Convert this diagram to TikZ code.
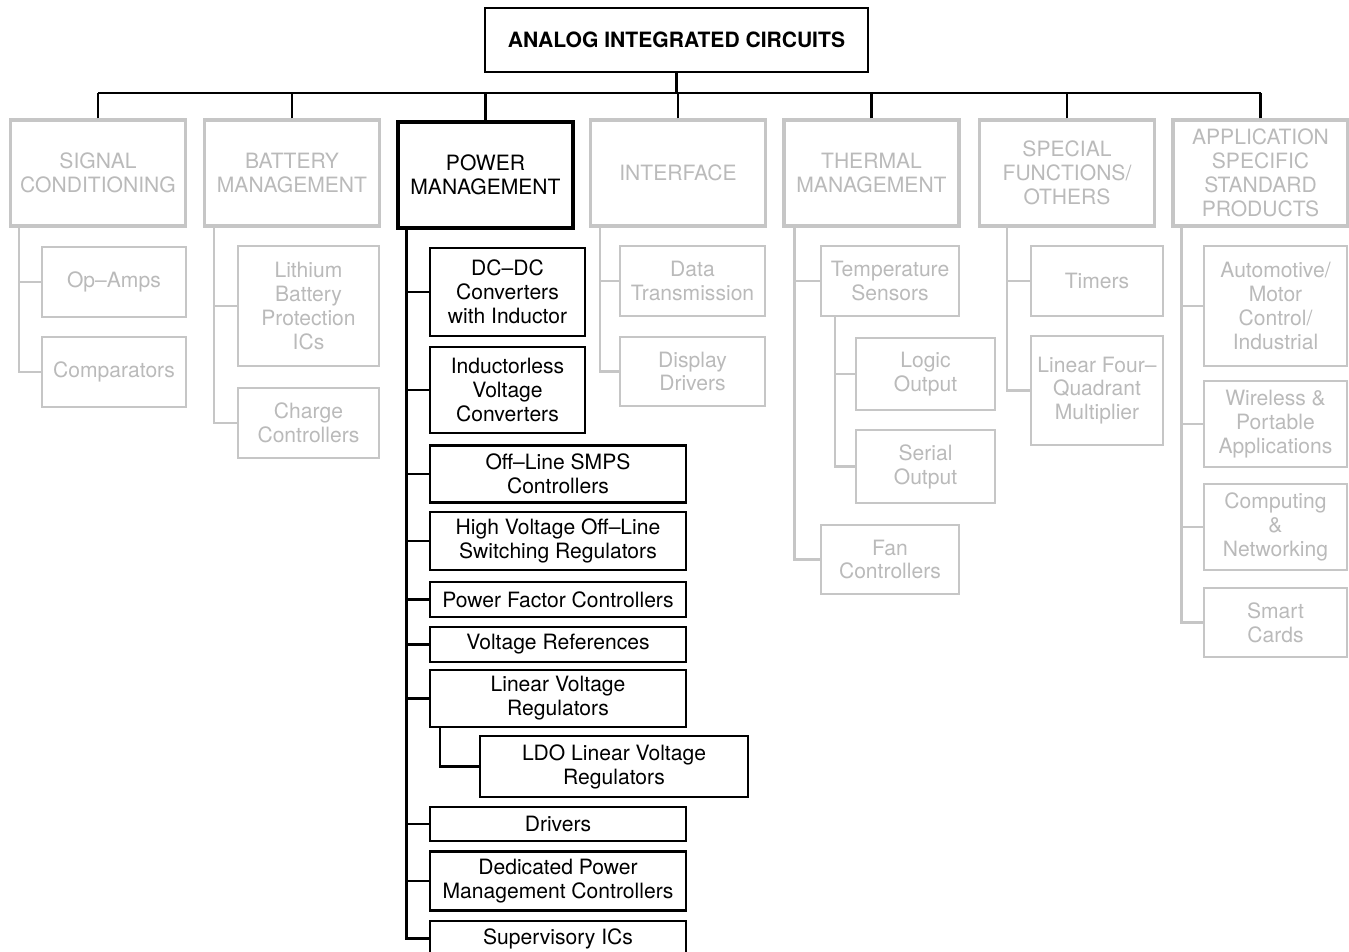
\documentclass[tikz,border=0pt]{standalone}
\usepackage{fontspec}
\setmainfont{TeX Gyre Heros}
\usepackage{xcolor}
\definecolor{boxgray}{HTML}{C6C6C6}
\definecolor{textgray}{HTML}{BABABA}
\usepackage{tikz}
\usetikzlibrary{positioning}

\begin{document}
\begin{tikzpicture}[x=0.02cm, y=-0.02cm,
    every node/.style={font=\fontsize{12}{13.6}\selectfont, align=center, inner sep=2pt},
    topbox/.style={draw, line width=1.6pt, minimum width=7.66cm, minimum height=1.28cm,
                   font=\fontsize{12}{13.6}\selectfont\bfseries},
    catbox/.style={draw, line width=1.75pt, minimum width=3.5cm, minimum height=2.12cm},
    subbox/.style={draw, line width=1.25pt},
    dimbox/.style={draw=boxgray, text=textgray},
    pmnarrow/.style={subbox, minimum width=3.1cm},
    pmwide/.style={subbox, minimum width=5.12cm},
    blackline/.style={line width=1.25pt},
    grayline/.style={line width=1.25pt, boxgray}
  ]
    \useasboundingbox (0,0) rectangle (1349,951);
    \clip (0,0) rectangle (1349,951);

    % Top
    \node[topbox] (aic) at (676.5,40) {ANALOG INTEGRATED CIRCUITS};

    % Categories
    \node[catbox, dimbox] (sig) at (98,173) {SIGNAL\\CONDITIONING};
    \node[catbox, dimbox] (bat) at (292,173) {BATTERY\\MANAGEMENT};
    \node[catbox] (pwr) at (485.5,175) {POWER\\MANAGEMENT};
    \node[catbox, dimbox] (itf) at (678,173) {INTERFACE};
    \node[catbox, dimbox] (thm) at (871.5,173) {THERMAL\\MANAGEMENT};
    \node[catbox, dimbox] (spf) at (1067,173) {SPECIAL\\FUNCTIONS/\\OTHERS};
    \node[catbox, dimbox] (asp) at (1260.5,173) {APPLICATION\\SPECIFIC\\STANDARD\\PRODUCTS};

    % Signal conditioning
    \node[subbox, dimbox, minimum width=2.88cm, minimum height=1.4cm] (opamp) at (114,282) {Op--Amps};
    \node[subbox, dimbox, minimum width=2.88cm, minimum height=1.4cm] (comp) at (114,372) {Comparators};

    % Battery management
    \node[subbox, dimbox, minimum width=2.82cm, minimum height=2.4cm] (lith) at (308.5,306)
      {Lithium\\Battery\\Protection\\ICs};
    \node[subbox, dimbox, minimum width=2.82cm, minimum height=1.4cm] (chg) at (308.5,423)
      {Charge\\Controllers};

    % Power management
    \node[pmnarrow, minimum height=1.76cm] (dcdc) at (507.5,292) {DC--DC\\Converters\\with Inductor};
    \node[pmnarrow, minimum height=1.72cm] (indl) at (507.5,390) {Inductorless\\Voltage\\Converters};
    \node[pmwide, minimum height=1.14cm] (smps) at (558,474) {Off--Line SMPS\\Controllers};
    \node[pmwide, minimum height=1.16cm] (hvsw) at (558,541) {High Voltage Off--Line\\Switching Regulators};
    \node[pmwide, minimum height=0.7cm] (pfc) at (558,599.5) {Power Factor Controllers};
    \node[pmwide, minimum height=0.7cm] (vref) at (558,644.5) {Voltage References};
    \node[pmwide, minimum height=1.14cm] (lvr) at (558,698.5) {Linear Voltage\\Regulators};
    \node[subbox, minimum width=5.36cm, minimum height=1.22cm] (ldo) at (614,766.5)
      {LDO Linear Voltage\\Regulators};
    \node[pmwide, minimum height=0.68cm] (drv) at (558,824) {Drivers};
    \node[pmwide, minimum height=1.18cm] (dpm) at (558,881) {Dedicated Power\\Management Controllers};
    \node[pmwide, minimum height=0.7cm] (sup) at (558,938.5) {Supervisory ICs};

    % Interface
    \node[subbox, dimbox, minimum width=2.9cm, minimum height=1.4cm] (data) at (692.5,281)
      {Data\\Transmission};
    \node[subbox, dimbox, minimum width=2.9cm, minimum height=1.38cm] (disp) at (692.5,371.5)
      {Display\\Drivers};

    % Thermal management
    \node[subbox, dimbox, minimum width=2.76cm, minimum height=1.4cm] (temp) at (890,281)
      {Temperature\\Sensors};
    \node[subbox, dimbox, minimum width=2.78cm, minimum height=1.44cm] (logic) at (925.5,374)
      {Logic\\Output};
    \node[subbox, dimbox, minimum width=2.78cm, minimum height=1.46cm] (serial) at (925.5,466.5)
      {Serial\\Output};
    \node[subbox, dimbox, minimum width=2.76cm, minimum height=1.38cm] (fan) at (890,559.5)
      {Fan\\Controllers};

    % Special functions
    \node[subbox, dimbox, minimum width=2.64cm, minimum height=1.4cm] (timer) at (1097,281) {Timers};
    \node[subbox, dimbox, minimum width=2.64cm, minimum height=2.18cm] (mult) at (1097,390.5)
      {Linear Four--\\Quadrant\\Multiplier};

    % Application specific
    \node[subbox, dimbox, minimum width=2.86cm, minimum height=2.4cm] (auto) at (1275.5,306)
      {Automotive/\\Motor\\Control/\\Industrial};
    \node[subbox, dimbox, minimum width=2.86cm, minimum height=1.72cm] (wire) at (1275.5,424)
      {Wireless \&\\Portable\\Applications};
    \node[subbox, dimbox, minimum width=2.86cm, minimum height=1.72cm] (cnet) at (1275.5,527)
      {Computing\\\&\\Networking};
    \node[subbox, dimbox, minimum width=2.86cm, minimum height=1.38cm] (card) at (1275.5,622.5)
      {Smart\\Cards};

    % Bus
    \coordinate (bus) at (676.5,93);
    \draw[blackline] (aic) -- (aic.south |- bus);
    \draw[blackline] (sig.north |- bus) -- (asp.north |- bus);
    \draw[blackline] (sig) -- (sig.north |- bus);
    \draw[blackline] (bat) -- (bat.north |- bus);
    \draw[blackline] (pwr) -- (pwr.north |- bus);
    \draw[blackline] (itf) -- (itf.north |- bus);
    \draw[blackline] (thm) -- (thm.north |- bus);
    \draw[blackline] (spf) -- (spf.north |- bus);
    \draw[blackline] (asp) -- (asp.north |- bus);

    % Trunks
    \draw[grayline] (sig.south west) ++(10,0) |- (opamp);
    \draw[grayline] (sig.south west) ++(10,0) |- (comp);
    \draw[grayline] (bat.south west) ++(11,0) |- (lith);
    \draw[grayline] (bat.south west) ++(11,0) |- (chg);

    \draw[blackline] (pwr.south west) ++(10,0) |- (dcdc);
    \draw[blackline] (pwr.south west) ++(10,0) |- (indl);
    \draw[blackline] (pwr.south west) ++(10,0) |- (smps);
    \draw[blackline] (pwr.south west) ++(10,0) |- (hvsw);
    \draw[blackline] (pwr.south west) ++(10,0) |- (pfc);
    \draw[blackline] (pwr.south west) ++(10,0) |- (vref);
    \draw[blackline] (pwr.south west) ++(10,0) |- (lvr);
    \draw[blackline] (pwr.south west) ++(10,0) |- (drv);
    \draw[blackline] (pwr.south west) ++(10,0) |- (dpm);
    \draw[blackline] (pwr.south west) ++(10,0) |- (sup);
    \draw[blackline] (lvr.south west) ++(11,0) |- (ldo);

    \draw[grayline] (itf.south west) ++(11,0) |- (data);
    \draw[grayline] (itf.south west) ++(11,0) |- (disp);

    \draw[grayline] (thm.south west) ++(12,0) |- (temp);
    \draw[grayline] (thm.south west) ++(12,0) |- (fan);
    \draw[grayline] (temp.south west) ++(15,0) |- (logic);
    \draw[grayline] (temp.south west) ++(15,0) |- (serial);

    \draw[grayline] (spf.south west) ++(29,0) |- (timer);
    \draw[grayline] (spf.south west) ++(29,0) |- (mult);

    \draw[grayline] (asp.south west) ++(10,0) |- (auto);
    \draw[grayline] (asp.south west) ++(10,0) |- (wire);
    \draw[grayline] (asp.south west) ++(10,0) |- (cnet);
    \draw[grayline] (asp.south west) ++(10,0) |- (card);
  \end{tikzpicture}
\end{document}
